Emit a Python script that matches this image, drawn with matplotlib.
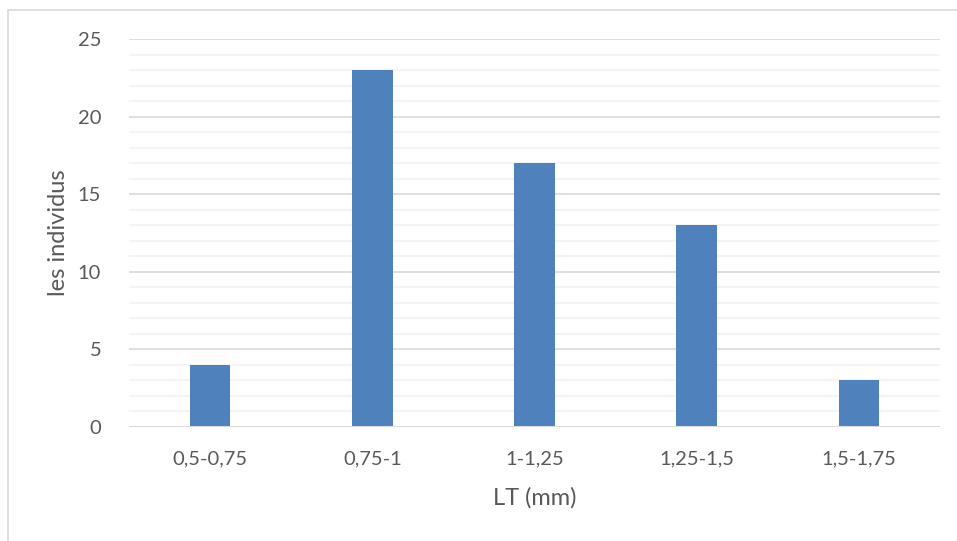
import matplotlib
matplotlib.use("Agg")
import matplotlib.pyplot as plt
from matplotlib.patches import Rectangle
from matplotlib.ticker import MultipleLocator

categories = ["0,5-0,75", "0,75-1", "1-1,25", "1,25-1,5", "1,5-1,75"]
counts = [4, 23, 17, 13, 3]

W, H = 957, 541
fig = plt.figure(figsize=(W / 100, H / 100), dpi=100)
plt.rcParams['font.family'] = ['Lato', 'DejaVu Sans']

# outer chart border (light grey), left/top visible
fig.patches.append(Rectangle((8 / W, -0.1), 1.2, (H - 10) / H + 0.1, transform=fig.transFigure,
                             fill=False, edgecolor="#D9D9D9", linewidth=1.2))

ax = fig.add_axes([129 / W, (H - 427) / H, (940 - 129) / W, (427 - 39) / H])
x = range(len(categories))
ax.bar(x, counts, width=0.25, color="#4F81BD", zorder=3)
ax.set_xlim(-0.5, len(categories) - 0.5)
ax.set_ylim(0, 25)
ax.yaxis.set_major_locator(MultipleLocator(5))
ax.yaxis.set_minor_locator(MultipleLocator(1))
ax.grid(which="major", axis="y", color="#D9D9D9", linewidth=1.2, zorder=0)
ax.grid(which="minor", axis="y", color="#F2F2F2", linewidth=1.2, zorder=0)
for s in ax.spines.values():
    s.set_visible(False)
ax.axhline(0, color="#D9D9D9", linewidth=1.5, zorder=4)
ax.set_xticks(list(x))
ax.set_xticklabels(categories)
ax.tick_params(axis="both", which="both", length=0, labelsize=14.5, colors="#595959")
ax.tick_params(axis="x", pad=17)
ax.tick_params(axis="y", pad=20)
ax.set_xlabel("LT (mm)", fontsize=17, color="#595959", labelpad=14)
ax.set_ylabel("les individus", fontsize=17, color="#595959", labelpad=6)

fig.savefig("out.png", dpi=100)
